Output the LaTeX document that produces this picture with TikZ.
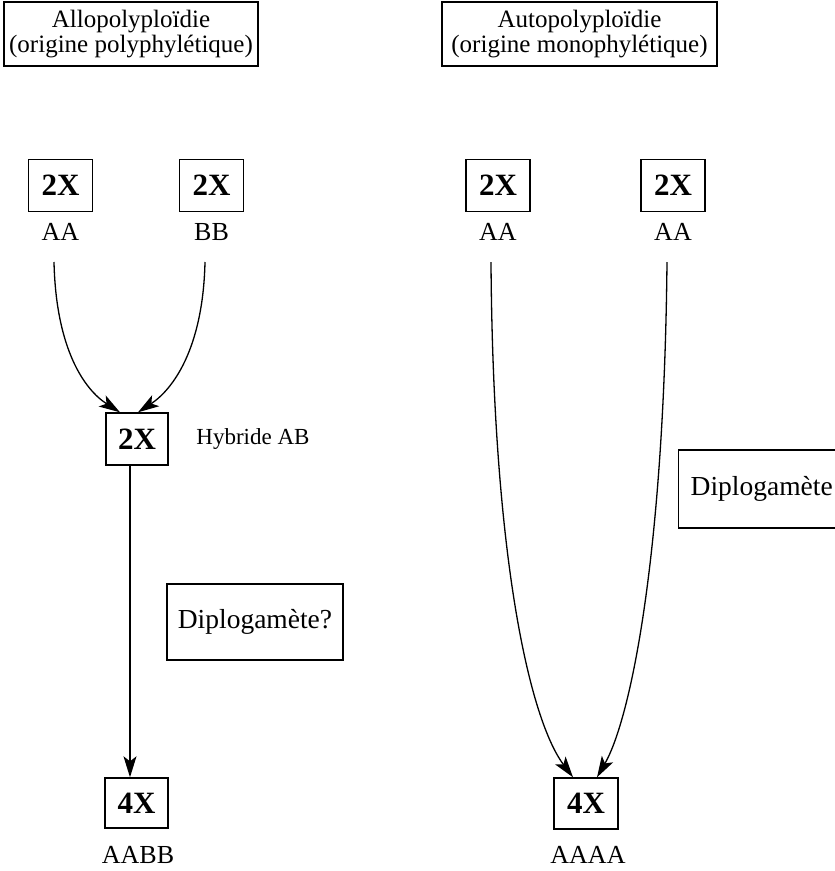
\documentclass[tikz,border=0pt]{standalone}
\usepackage{fontspec}
\setmainfont{Liberation Serif}
\usetikzlibrary{arrows.meta}
\tikzset{
  x=1pt, y=-1pt,
  box/.style={draw, line width=1.4pt, inner sep=0pt, align=center},
  title/.style={box, font=\fontsize{25}{25}\selectfont},
  ploidy/.style={box, font=\bfseries\fontsize{31}{34}\selectfont, minimum width=64pt, minimum height=52pt},
  genome/.style={font=\fontsize{26}{30}\selectfont, inner sep=0pt},
  note/.style={font=\fontsize{23}{26}\selectfont, inner sep=0pt},
  gamete/.style={box, font=\fontsize{27.5}{32}\selectfont},
  arr/.style={line width=1.3pt, -{Stealth[length=21pt,width=13pt,inset=5pt]}}
}
\begin{document}
\begin{tikzpicture}
\useasboundingbox (0,0) rectangle (835,871);
% titles
\node[title, minimum width=254pt, minimum height=64pt] (t1) at (131,34) {Allopolyploïdie\\(origine polyphylétique)};
\node[title, minimum width=275pt, minimum height=64pt] (t2) at (579.5,34) {Autopolyploïdie\\(origine monophylétique)};
% left: allopolyploidy
\node[ploidy] (a1) at (60.5,185.5) {2X};
\node[ploidy] (b1) at (211.5,185.5) {2X};
\node[genome] (ga1) at (60.5,232) {AA};
\node[genome] (gb1) at (211.5,232) {BB};
\node[ploidy, minimum width=62pt] (h) at (137,439) {2X};
\node[note] (hl) at (253,439) {Hybride AB};
\node[gamete, minimum width=176pt, minimum height=76pt] (d1) at (255,622) {Diplogamète?};
\node[ploidy, minimum width=63pt, minimum height=50pt] (f1) at (136.5,803) {4X};
\node[genome] (gf1) at (138,855) {AABB};
\coordinate (s1) at (54,262);
\coordinate (s2) at (205,262);
\draw[arr] (s1) .. controls (56,350) and (85,390) .. ([xshift=-17pt]h.north);
\draw[arr] (s2) .. controls (203,350) and (172,390) .. ([xshift=1pt]h.north);
\draw[arr] ([xshift=-7pt]h.south) -- ([xshift=-6.5pt]f1.north);
% right: autopolyploidy
\node[ploidy] (a2) at (498,185.5) {2X};
\node[ploidy] (a3) at (673,185.5) {2X};
\node[genome] (ga2) at (498,232) {AA};
\node[genome] (ga3) at (673,232) {AA};
\node[ploidy, minimum height=51pt] (f2) at (586,803.5) {4X};
\node[genome] (gf2) at (588,855) {AAAA};
\node[gamete, anchor=west, minimum height=78pt, inner xsep=12pt] (d2) at (678,489) {Diplogamète};
\coordinate (s3) at (491,262);
\coordinate (s4) at (667,262);
\draw[arr] (s3) .. controls (493,560) and (530,720) .. ([xshift=-13pt]f2.north);
\draw[arr] (s4) .. controls (664,560) and (630,720) .. ([xshift=11pt]f2.north);
\end{tikzpicture}
\end{document}
